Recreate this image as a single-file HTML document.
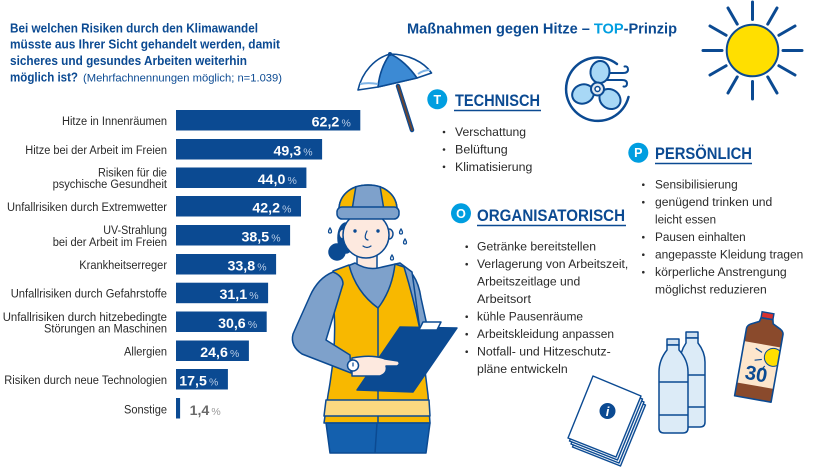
<!DOCTYPE html>
<html><head><meta charset="utf-8"><style>html,body{margin:0;padding:0;background:#fff}svg{display:block}</style></head>
<body>
<svg width="820" height="469" viewBox="0 0 820 469" xmlns="http://www.w3.org/2000/svg" font-family="'Liberation Sans', sans-serif">
<rect width="820" height="469" fill="#fff"/>

<!-- Title -->
<g fill="#0b4a92" font-weight="bold" font-size="12.8">
<text x="10" y="32.3" textLength="248" lengthAdjust="spacingAndGlyphs">Bei welchen Risiken durch den Klimawandel</text>
<text x="10" y="48.7" textLength="270" lengthAdjust="spacingAndGlyphs">müsste aus Ihrer Sicht gehandelt werden, damit</text>
<text x="10" y="65" textLength="237" lengthAdjust="spacingAndGlyphs">sicheres und gesundes Arbeiten weiterhin</text>
<text x="10" y="81.3" textLength="68" lengthAdjust="spacingAndGlyphs">möglich ist?</text>
</g>
<text x="83" y="81.3" font-size="11.3" fill="#0b4a92" textLength="199" lengthAdjust="spacingAndGlyphs">(Mehrfachnennungen möglich; n=1.039)</text>

<!-- Bars -->
<g fill="#0b4a92">
<rect x="176" y="110" width="184.3" height="20.5"/>
<rect x="176" y="139" width="146.1" height="20.5"/>
<rect x="176" y="167.5" width="130.4" height="20.5"/>
<rect x="176" y="196" width="125" height="20.5"/>
<rect x="176" y="225" width="114.1" height="20.5"/>
<rect x="176" y="254" width="100.1" height="20.5"/>
<rect x="176" y="282.7" width="92.1" height="20.5"/>
<rect x="176" y="311.5" width="90.7" height="20.5"/>
<rect x="176" y="340.5" width="72.9" height="20.5"/>
<rect x="176" y="369" width="51.9" height="20.5"/>
<rect x="176" y="398" width="4.1" height="20.5"/>
</g>

<!-- Labels -->
<g fill="#2a2a2a" font-size="12.2">
<text x="62" y="124.8" textLength="105" lengthAdjust="spacingAndGlyphs">Hitze in Innenräumen</text>
<text x="25.3" y="153.8" textLength="141.7" lengthAdjust="spacingAndGlyphs">Hitze bei der Arbeit im Freien</text>
<text x="98" y="176.7" textLength="69" lengthAdjust="spacingAndGlyphs">Risiken für die</text>
<text x="52.6" y="188.2" textLength="114.4" lengthAdjust="spacingAndGlyphs">psychische Gesundheit</text>
<text x="7" y="210.8" textLength="160" lengthAdjust="spacingAndGlyphs">Unfallrisiken durch Extremwetter</text>
<text x="103.3" y="234" textLength="63.7" lengthAdjust="spacingAndGlyphs">UV-Strahlung</text>
<text x="52.7" y="245.8" textLength="114.3" lengthAdjust="spacingAndGlyphs">bei der Arbeit im Freien</text>
<text x="79.3" y="269" textLength="87.7" lengthAdjust="spacingAndGlyphs">Krankheitserreger</text>
<text x="10.7" y="297.7" textLength="156.3" lengthAdjust="spacingAndGlyphs">Unfallrisiken durch Gefahrstoffe</text>
<text x="2.7" y="320.8" textLength="164.3" lengthAdjust="spacingAndGlyphs">Unfallrisiken durch hitzebedingte</text>
<text x="44" y="332.5" textLength="123" lengthAdjust="spacingAndGlyphs">Störungen an Maschinen</text>
<text x="124" y="355.5" textLength="43" lengthAdjust="spacingAndGlyphs">Allergien</text>
<text x="4.3" y="384" textLength="162.7" lengthAdjust="spacingAndGlyphs">Risiken durch neue Technologien</text>
<text x="124" y="413.3" textLength="43" lengthAdjust="spacingAndGlyphs">Sonstige</text>
</g>

<!-- Values -->
<g fill="#fff" font-weight="bold" font-size="14.2" text-anchor="end">
<text x="339.3" y="126.5">62,2</text>
<text x="301.1" y="155.5">49,3</text>
<text x="285.4" y="184">44,0</text>
<text x="280" y="212.5">42,2</text>
<text x="269.1" y="241.5">38,5</text>
<text x="255.1" y="270.5">33,8</text>
<text x="247.1" y="299.2">31,1</text>
<text x="245.7" y="328">30,6</text>
<text x="227.9" y="357">24,6</text>
<text x="206.9" y="385.5">17,5</text>
</g>
<g fill="#b8cce6" font-size="10.5" text-anchor="end">
<text x="350.8" y="126.5">%</text>
<text x="312.6" y="155.5">%</text>
<text x="296.9" y="184">%</text>
<text x="291.5" y="212.5">%</text>
<text x="280.6" y="241.5">%</text>
<text x="266.6" y="270.5">%</text>
<text x="258.6" y="299.2">%</text>
<text x="257.2" y="328">%</text>
<text x="239.4" y="357">%</text>
<text x="218.4" y="385.5">%</text>
</g>
<text x="209.3" y="415" fill="#6a6a6a" font-weight="bold" font-size="14.2" text-anchor="end">1,4</text>
<text x="220.7" y="415" fill="#9a9a9a" font-size="10.5" text-anchor="end">%</text>

<!-- Right headline -->
<text x="407" y="33.3" font-size="14.7" font-weight="bold" fill="#0b4a92" textLength="270" lengthAdjust="spacingAndGlyphs">Maßnahmen gegen Hitze – <tspan fill="#009ee0">TOP</tspan>-Prinzip</text>

<!-- Sun -->
<g stroke="#0b4a92" stroke-width="3" stroke-linecap="round">
<line x1="752.5" y1="19.5" x2="752.5" y2="2"/>
<line x1="752.5" y1="81.5" x2="752.5" y2="99"/>
<line x1="722" y1="50.5" x2="703" y2="50.5"/>
<line x1="783" y1="50.5" x2="802" y2="50.5"/>
<line x1="737.25" y1="24.1" x2="728" y2="8"/>
<line x1="767.75" y1="24.1" x2="777" y2="8"/>
<line x1="737.25" y1="76.9" x2="728" y2="93"/>
<line x1="767.75" y1="76.9" x2="777" y2="93"/>
<line x1="726.1" y1="35.25" x2="710" y2="26"/>
<line x1="778.9" y1="35.25" x2="795" y2="26"/>
<line x1="726.1" y1="65.75" x2="710" y2="75"/>
<line x1="778.9" y1="65.75" x2="795" y2="75"/>
</g>
<circle cx="752.5" cy="50.5" r="25.8" fill="#ffdf00" stroke="#0b4a92" stroke-width="2"/>

<!-- Fan icon -->
<path d="M628.5,97 A31.7,31.7 0 1 1 617,64" fill="none" stroke="#0b4a92" stroke-width="2.5" stroke-linecap="round"/>
<g fill="none" stroke="#0b4a92" stroke-width="2" stroke-linecap="round">
<path d="M607,73 L623,73 Q628,73 628,69.5 Q628,66 624.5,66.5"/>
<path d="M606,80 L622,80 Q627,80 627,83.5 Q627,87 623.5,86.5"/>
</g>
<g fill="#a8d8f6" stroke="#0b4a92" stroke-width="2">
<ellipse cx="600" cy="72" rx="9.5" ry="11" transform="rotate(5 600 72)"/>
<ellipse cx="583" cy="94" rx="11" ry="9.5" transform="rotate(-20 583 94)"/>
<ellipse cx="610" cy="99" rx="11" ry="9.5" transform="rotate(35 610 99)"/>
</g>
<circle cx="597.5" cy="89" r="6.5" fill="#dfe7ef" stroke="#0b4a92" stroke-width="2"/>
<circle cx="597.5" cy="89" r="2.5" fill="#fff" stroke="#0b4a92" stroke-width="1.5"/>

<!-- Umbrella -->
<line x1="398" y1="86" x2="412" y2="130" stroke="#0b4a92" stroke-width="4.5" stroke-linecap="round"/>
<line x1="398" y1="86" x2="412" y2="130" stroke="#6b4532" stroke-width="2" stroke-linecap="round"/>
<path d="M358,90 C362,72 375,58 390,54 C408,54 424,62 431.5,73 L417,78 L378,87 Z" fill="#fff" stroke="#0b4a92" stroke-width="1.6" stroke-linejoin="round"/>
<path d="M390,54 C383,64 379,76 378,87 L417,78 C410,68 400,58 390,54 Z" fill="#3c8ad4" stroke="#0b4a92" stroke-width="1.6" stroke-linejoin="round"/>
<path d="M360,84 C365,83 372,83 378,84" fill="none" stroke="#7fb4e6" stroke-width="2"/>
<path d="M418,74 C422,71 426,70 430,70" fill="none" stroke="#7fb4e6" stroke-width="2"/>
<circle cx="390" cy="54" r="2" fill="#0b4a92"/>

<!-- Section headers -->
<g fill="#009ee0">
<circle cx="437.3" cy="99.3" r="10"/>
<circle cx="638.3" cy="152.7" r="10"/>
<circle cx="461" cy="213.3" r="10"/>
</g>
<g fill="#fff" font-weight="bold" font-size="12.5" text-anchor="middle">
<text x="437.3" y="103.8">T</text>
<text x="638.3" y="157.2">P</text>
<text x="461" y="217.8">O</text>
</g>
<g fill="#0b4a92" font-weight="bold" font-size="16.5">
<text x="455" y="106" textLength="85" lengthAdjust="spacingAndGlyphs">TECHNISCH</text>
<text x="655" y="159" textLength="97" lengthAdjust="spacingAndGlyphs">PERSÖNLICH</text>
<text x="477" y="221" textLength="148" lengthAdjust="spacingAndGlyphs">ORGANISATORISCH</text>
</g>
<g stroke="#0b4a92" stroke-width="1.6">
<line x1="454" y1="110.5" x2="541" y2="110.5"/>
<line x1="655" y1="163.5" x2="752" y2="163.5"/>
<line x1="477" y1="225.5" x2="626" y2="225.5"/>
</g>

<!-- Lists -->
<g fill="#2a2a2a" font-size="12.2">
<text x="455" y="136" textLength="71" lengthAdjust="spacingAndGlyphs">Verschattung</text>
<text x="455" y="153.5" textLength="52.7" lengthAdjust="spacingAndGlyphs">Belüftung</text>
<text x="455" y="170.8" textLength="77.3" lengthAdjust="spacingAndGlyphs">Klimatisierung</text>

<text x="655" y="188.7" textLength="82.7" lengthAdjust="spacingAndGlyphs">Sensibilisierung</text>
<text x="655" y="206.2" textLength="117.3" lengthAdjust="spacingAndGlyphs">genügend trinken und</text>
<text x="655" y="223.7" textLength="61" lengthAdjust="spacingAndGlyphs">leicht essen</text>
<text x="655" y="241.2" textLength="90.7" lengthAdjust="spacingAndGlyphs">Pausen einhalten</text>
<text x="655" y="258.7" textLength="148.3" lengthAdjust="spacingAndGlyphs">angepasste Kleidung tragen</text>
<text x="655" y="276.2" textLength="131.7" lengthAdjust="spacingAndGlyphs">körperliche Anstrengung</text>
<text x="655" y="293.7" textLength="111.7" lengthAdjust="spacingAndGlyphs">möglichst reduzieren</text>

<text x="477" y="250.7" textLength="119" lengthAdjust="spacingAndGlyphs">Getränke bereitstellen</text>
<text x="477" y="268.2" textLength="151.3" lengthAdjust="spacingAndGlyphs">Verlagerung von Arbeitszeit,</text>
<text x="477" y="285.7" textLength="103.3" lengthAdjust="spacingAndGlyphs">Arbeitszeitlage und</text>
<text x="477" y="303.2" textLength="54" lengthAdjust="spacingAndGlyphs">Arbeitsort</text>
<text x="477" y="320.7" textLength="106" lengthAdjust="spacingAndGlyphs">kühle Pausenräume</text>
<text x="477" y="338.2" textLength="137" lengthAdjust="spacingAndGlyphs">Arbeitskleidung anpassen</text>
<text x="477" y="355.7" textLength="133.7" lengthAdjust="spacingAndGlyphs">Notfall- und Hitzeschutz-</text>
<text x="477" y="373.2" textLength="90.7" lengthAdjust="spacingAndGlyphs">pläne entwickeln</text>
</g>
<g fill="#2a2a2a">
<circle cx="444" cy="132" r="1.3"/>
<circle cx="444" cy="149.5" r="1.3"/>
<circle cx="444" cy="166.8" r="1.3"/>
<circle cx="643.3" cy="184.7" r="1.3"/>
<circle cx="643.3" cy="202.2" r="1.3"/>
<circle cx="643.3" cy="237.2" r="1.3"/>
<circle cx="643.3" cy="254.7" r="1.3"/>
<circle cx="643.3" cy="272.2" r="1.3"/>
<circle cx="466.7" cy="246.7" r="1.3"/>
<circle cx="466.7" cy="264.2" r="1.3"/>
<circle cx="466.7" cy="316.7" r="1.3"/>
<circle cx="466.7" cy="334.2" r="1.3"/>
<circle cx="466.7" cy="351.7" r="1.3"/>
</g>

<!-- Worker figure -->
<g stroke="#0b4a92" stroke-width="1.5" stroke-linejoin="round">
<ellipse cx="346" cy="238" rx="8" ry="15" fill="#0b4a92"/>
<circle cx="337" cy="252" r="8" fill="#0b4a92"/>
<rect x="357" y="248" width="20" height="26" fill="#fde9df"/>
<path d="M398,264 Q417,270 421,298 L428,330 L414,332 Q410,300 400,282 Z" fill="#7ea1cb"/>
<path d="M333,272 L355,263 Q366,270 378,268 L400,263 L412,272 L420,330 L338,335 Z" fill="#7ea1cb"/>
<path d="M333,271 L349,265 Q356,292 378,308 Q392,290 395,264 L404,267 Q414,300 420,330 L428,395 L430,423 L324,423 L328,395 Q338,340 333,300 Z" fill="#f8b800"/>
<line x1="378" y1="308" x2="378" y2="423"/>
<path d="M326,400 L429,400 L430,416 L324,416 Z" fill="#fcd980"/>
<path d="M326,423 L430,423 L426,453 L330,453 Z" fill="#1460ae"/>
<line x1="377" y1="423" x2="375" y2="453"/>
<path d="M333,272 Q343,276 343,284 L326,340 L350,355 L351,373 L302,354 Q290,346 293,334 L310,296 Q318,278 333,272 Z" fill="#7ea1cb"/>
<path d="M357,390 L400,327 L457,328 L413,392 Z" fill="#0b4a92"/>
<path d="M419,330 L423,322 L441,322 L437,330 Z" fill="#fff"/>
<path d="M352,358 Q372,354 385,359 L398,361 Q401,364 397,366 L386,366 Q388,373 380,376 L352,376 Z" fill="#fde9df"/>
<circle cx="353" cy="365.5" r="5.5" fill="#fff"/>
<ellipse cx="343" cy="234" rx="4" ry="5" fill="#fde9df"/>
<ellipse cx="389" cy="234" rx="4" ry="5" fill="#fde9df"/>
<ellipse cx="366" cy="235" rx="23" ry="23" fill="#fde9df"/>
<path d="M339,212 C338,196 350,185 368,185 C386,185 398,196 397,212 Z" fill="#f8b800"/>
<path d="M356,186 L380,186 L384,210 L352,210 Z" fill="#7ea1cb" stroke="none"/>
<path d="M339,212 C338,196 350,185 368,185 C386,185 398,196 397,212" fill="none"/>
<line x1="356" y1="186" x2="352" y2="210"/>
<line x1="380" y1="186" x2="384" y2="210"/>
<rect x="337" y="207" width="62" height="12" rx="5" fill="#7ea1cb"/>
</g>
<g fill="#0b4a92">
<circle cx="355" cy="231" r="1.7"/>
<circle cx="378" cy="231" r="1.7"/>
</g>
<g fill="none" stroke="#0b4a92" stroke-width="1.2" stroke-linecap="round">
<path d="M367,231 Q363,239 368,240"/>
<path d="M363,246 Q367,249 371,246"/>
<path d="M330,228 C328,231 328,233 330,233 C332,233 332,231 330,228 Z"/>
<path d="M401,229 C399,232 399,234 401,234 C403,234 403,232 401,229 Z"/>
<path d="M405,239 C403,242 403,244 405,244 C407,244 407,242 405,239 Z"/>
<path d="M392,255 C390,258 390,260 392,260 C394,260 394,258 392,255 Z"/>
<line x1="353" y1="363" x2="353" y2="366"/>
</g>

<!-- Booklet -->
<g stroke="#0b4a92" stroke-width="1.4" stroke-linejoin="round">
<path d="M597.5,385 L645.5,405 L620.5,466 L572.5,447 Z" fill="#e8eef5"/>
<path d="M596,382 L644,402 L619,463 L571,444 Z" fill="#fff"/>
<path d="M594.5,379 L642.5,399 L617.5,460 L569.5,441 Z" fill="#e8eef5"/>
<path d="M593,376 L641,396 L616,457 L568,438 Z" fill="#fff"/>
</g>
<circle cx="607.5" cy="411" r="8" fill="#0b4a92"/>
<text x="607.5" y="416" fill="#fff" font-size="13" font-weight="bold" font-style="italic" text-anchor="middle">i</text>

<!-- Bottles -->
<g stroke="#0b4a92" stroke-width="1.5" stroke-linejoin="round">
<rect x="686" y="332" width="12" height="6" fill="#cfe0f0"/>
<path d="M686,338 L686,343 Q680,352 680,362 L680,422 Q680,427 685,427 L700,427 Q705,427 705,422 L705,362 Q705,352 698,343 L698,338 Z" fill="#dcebf7"/>
<line x1="680" y1="375" x2="705" y2="375"/>
<line x1="680" y1="407" x2="705" y2="407"/>
<rect x="667" y="339" width="12" height="6" fill="#cfe0f0"/>
<path d="M667,345 L667,350 Q659,360 659,372 L659,428 Q659,433 664,433 L683,433 Q688,433 688,428 L688,372 Q688,360 679,350 L679,345 Z" fill="#dcebf7"/>
<line x1="659" y1="382" x2="688" y2="382"/>
<line x1="659" y1="415" x2="688" y2="415"/>
</g>

<!-- Sunscreen -->
<defs>
<clipPath id="lbl"><rect x="-18.5" y="-20" width="37" height="42"/></clipPath>
</defs>
<g transform="translate(759,364) rotate(10)">
<rect x="-6" y="-52" width="12" height="6" fill="#d6312f" stroke="#0b4a92" stroke-width="1.4"/>
<path d="M-18.5,-33 Q-18.5,-36 -15,-38 L-7,-42 L-6,-46 L6,-46 L7,-42 L15,-38 Q18.5,-36 18.5,-33 L18.5,35.5 L-18.5,35.5 Z" fill="#8a4a2c"/>
<rect x="-18.5" y="-20" width="37" height="42" fill="#fde6cc"/>
<g clip-path="url(#lbl)">
<circle cx="13" cy="-9" r="9" fill="#ffdf00" stroke="#0b4a92" stroke-width="1"/>
<g stroke="#0b4a92" stroke-width="1.2">
<line x1="1" y1="-12" x2="-6" y2="-15"/>
<line x1="2" y1="-5" x2="-5" y2="-3"/>
<line x1="6" y1="1" x2="3" y2="6"/>
</g>
</g>
<path d="M-18.5,-33 Q-18.5,-36 -15,-38 L-7,-42 L-6,-46 L6,-46 L7,-42 L15,-38 Q18.5,-36 18.5,-33 L18.5,35.5 L-18.5,35.5 Z" fill="none" stroke="#0b4a92" stroke-width="1.6" stroke-linejoin="round"/>
<text x="-1" y="17" fill="#0b4a92" font-size="20" font-weight="bold" text-anchor="middle">30</text>
</g>
</svg>
</body></html>
